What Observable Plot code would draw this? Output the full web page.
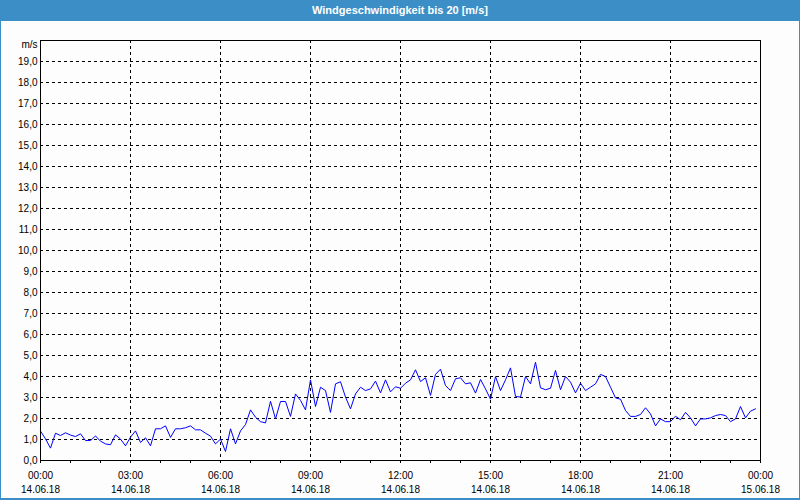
<!DOCTYPE html>
<html><head><meta charset="utf-8">
<script src="https://cdn.jsdelivr.net/npm/d3@7"></script>
<script src="https://cdn.jsdelivr.net/npm/@observablehq/plot@0.6"></script>
<style>
html,body{margin:0;padding:0;background:#3c8fc6;}
#wrap{position:relative;width:800px;height:500px;background:#3c8fc6;overflow:hidden;font-family:"Liberation Sans",Arial,sans-serif;}
#title{position:absolute;left:0;top:0;width:800px;height:21px;line-height:20px;text-align:center;color:#fff;font-weight:bold;font-size:11px;}
#inner{position:absolute;left:1px;top:21px;width:798px;height:477px;background:#fcfdfc;}
#chart{position:absolute;left:0;top:21px;}
</style></head>
<body>
<div id="wrap">
  <div id="title">Windgeschwindigkeit bis 20 [m/s]</div>
  <div id="inner"></div>
  <div id="chart"></div>
</div>
<script>
// Wind speed (m/s), one reading every 10 minutes from 14.06.18 00:00
const intervalMinutes = 10;
const windSpeed = [
  1.40,1.03,0.59,1.30,1.19,1.32,1.21,1.14,1.27,0.95,0.95,1.17,0.92,0.79,0.75,1.22,1.02,0.70,
  1.11,1.41,0.86,1.08,0.70,1.51,1.51,1.65,1.10,1.51,1.51,1.56,1.65,1.46,1.46,1.30,1.16,0.79,
  1.02,0.43,1.51,0.79,1.41,1.71,2.41,2.06,1.85,1.79,2.82,1.98,2.81,2.81,2.10,3.17,2.86,2.41,
  3.84,2.57,3.49,3.33,2.29,3.65,3.75,3.02,2.46,3.17,3.49,3.33,3.41,3.78,3.22,3.84,3.27,3.51,
  3.44,3.68,3.84,4.32,3.76,3.94,3.10,4.10,4.35,3.57,3.33,3.89,3.94,3.65,3.70,3.21,3.86,3.41,
  2.92,4.00,3.33,3.84,4.41,3.05,3.02,4.00,3.65,4.68,3.46,3.37,3.44,4.29,3.37,4.00,3.73,3.22,
  3.68,3.33,3.49,3.65,4.10,4.00,3.49,2.98,2.92,2.38,2.10,2.10,2.19,2.51,2.22,1.65,1.98,1.85,
  1.85,2.11,1.94,2.29,2.03,1.65,1.98,1.98,2.03,2.14,2.19,2.14,1.85,1.98,2.57,2.03,2.35,2.46
];
const yTicks = [0,1,2,3,4,5,6,7,8,9,10,11,12,13,14,15,16,17,18,19];
const xTickMinutes = [0,180,360,540,720,900,1080,1260,1440];
const xTickLabels = ["00:00\n14.06.18","03:00\n14.06.18","06:00\n14.06.18","09:00\n14.06.18","12:00\n14.06.18","15:00\n14.06.18","18:00\n14.06.18","21:00\n14.06.18","00:00\n15.06.18"];
const xMinorTicks = [0,60,120,180,240,300,360,420,480,540,600,660,720,780,840,900,960,1020,1080,1140,1200,1260,1320,1380,1440];
const yUnit = "m/s";

const data = windSpeed.map((v, i) => ({t: i * intervalMinutes, v}));
const labelOf = new Map(xTickMinutes.map((m, i) => [m, xTickLabels[i]]));
const dash = {stroke: "#000", strokeOpacity: 1, strokeDasharray: "3,3"};

const chart = Plot.plot({
  width: 800, height: 479,
  marginLeft: 40, marginRight: 40, marginTop: 19, marginBottom: 40,
  style: {background: "transparent", fontFamily: "'Liberation Sans', Arial, sans-serif", fontSize: "10px", color: "#000", overflow: "visible"},
  x: {domain: [0, 1440]},
  y: {domain: [0, 20]},
  marks: [
    Plot.gridY(yTicks.slice(1), dash),
    Plot.gridX(xTickMinutes.slice(1, -1), dash),
    Plot.line(data, {x: "t", y: "v", stroke: "#0000ff", strokeWidth: 1}),
    Plot.frame({stroke: "#000"}),
    Plot.axisY(yTicks, {tickSize: 0, tickPadding: 3, tickFormat: d => d.toFixed(1).replace(".", ","), label: null, fill: "#000"}),
    Plot.axisX(xMinorTicks, {tickSize: 3, tickFormat: () => "", label: null}),
    Plot.axisX(xTickMinutes, {tickSize: 0, tickPadding: 9, tickFormat: d => labelOf.get(d), label: null, lineHeight: 1.4, fill: "#000"}),
    Plot.text([yUnit], {x: 0, y: 20, dx: -3, dy: 4, textAnchor: "end", fill: "#000", text: d => d})
  ]
});
document.getElementById("chart").appendChild(chart);
</script>
</body></html>
